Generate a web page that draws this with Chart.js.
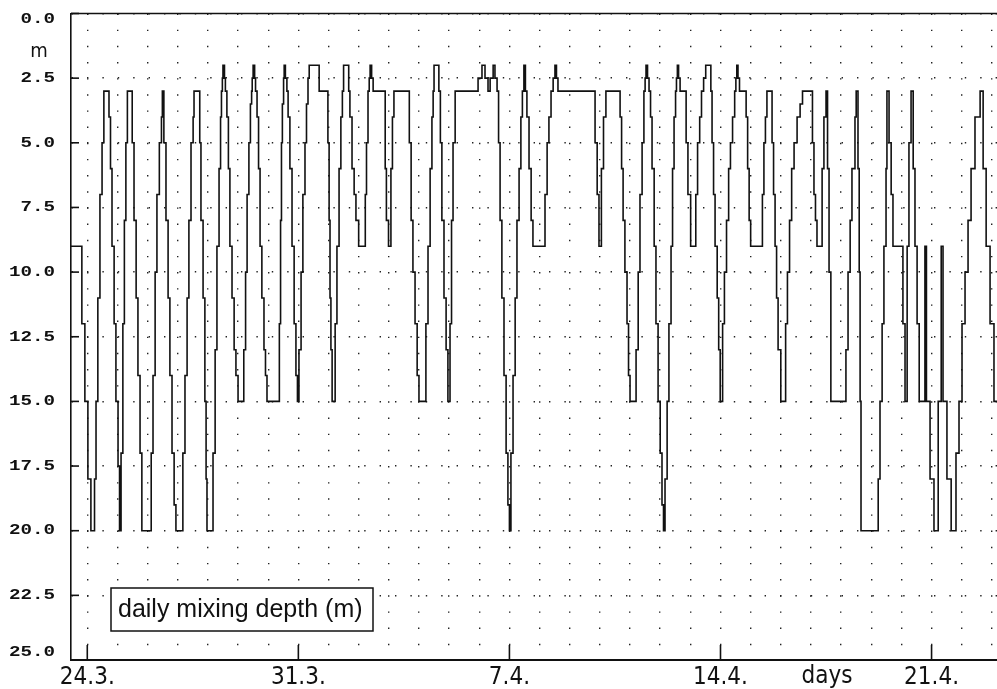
<!DOCTYPE html>
<html>
<head>
<meta charset="utf-8">
<script src="https://cdn.jsdelivr.net/npm/chart.js"></script>
<style>
  html, body { margin: 0; padding: 0; background: #fff; overflow: hidden; }
  #wrap { width: 997px; height: 689px; }
</style>
</head>
<body>
<div id="wrap"><canvas id="chart" width="997" height="689"></canvas></div>
<script>
// days after 24.3. (change points of the stepped mixing depth series)
const dayTimes = [
  -0.55,-0.18,-0.08,0.02,0.12,0.24,0.29,0.35,0.42,0.49,0.55,
  0.72,0.77,0.82,0.89,0.95,1.02,1.07,1.12,1.18,1.23,1.28,1.33,
  1.49,1.55,1.62,1.68,1.75,1.81,
  2.12,2.18,2.25,2.31,2.39,2.46,2.49,
  2.54,2.61,2.68,2.74,2.81,2.88,2.94,
  3.17,3.24,3.31,3.37,3.44,3.51,3.54,
  3.73,3.77,3.84,3.90,3.94,3.97,
  4.17,4.24,4.30,4.37,4.42,4.45,4.48,4.50,
  4.55,4.58,4.63,4.68,4.73,4.80,4.87,4.93,5.00,
  5.19,5.25,5.30,5.36,5.41,5.45,5.47,5.50,
  5.55,5.58,5.63,5.68,5.73,5.79,5.86,5.91,5.96,
  6.37,6.41,6.44,6.47,6.51,6.53,
  6.57,6.62,6.66,6.72,6.79,6.86,6.92,6.97,
  7.02,7.09,7.15,7.22,7.27,7.32,7.36,
  7.69,7.98,8.02,8.05,8.08,8.12,
  8.22,8.28,8.35,8.41,8.46,8.50,
  8.67,8.71,8.78,8.85,8.91,9.00,
  9.22,9.26,9.31,9.35,9.38,9.43,9.48,
  9.88,9.92,9.99,10.07,10.12,10.17,
  10.68,10.74,10.80,10.87,10.94,11.00,
  11.23,11.30,11.37,11.43,11.47,11.50,
  11.66,11.71,11.76,11.83,11.90,11.96,
  12.03,12.08,12.13,12.20,
  12.96,13.09,13.19,13.29,13.36,13.46,13.52,13.59,
  13.64,13.69,13.75,13.82,13.89,13.95,14.00,
  14.05,14.12,14.19,14.25,14.32,14.38,14.43,14.48,
  14.53,14.58,14.65,14.72,14.78,
  15.18,15.25,15.31,15.38,15.45,15.51,15.56,15.61,
  16.84,16.91,16.97,17.05,17.12,17.20,
  17.67,17.72,17.77,17.83,17.90,17.95,18.00,
  18.20,18.27,18.33,18.40,18.46,18.50,18.53,
  18.58,18.63,18.68,18.73,18.80,18.86,18.93,19.00,19.06,19.11,
  19.16,19.23,19.29,19.36,19.41,19.46,19.51,19.54,19.57,
  19.61,19.66,19.86,19.92,20.01,
  20.18,20.24,20.31,20.37,20.44,20.51,
  20.68,20.72,20.77,20.82,20.89,20.94,20.99,
  21.07,21.13,21.20,21.27,21.33,21.40,21.47,21.51,21.54,
  21.58,21.63,21.85,21.90,21.95,22.00,
  22.39,22.44,22.49,22.54,
  22.71,22.76,22.81,22.86,22.91,23.00,
  23.16,23.22,23.29,23.36,23.44,23.54,23.64,23.72,
  24.05,24.10,24.15,24.20,
  24.37,24.43,24.50,
  24.55,24.60,24.66,
  25.16,25.23,25.30,25.36,25.46,25.50,
  25.56,25.60,25.63,25.66,
  26.23,26.29,26.36,26.42,26.49,26.52,
  26.59,26.66,26.72,
  27.05,27.12,27.19,27.25,27.32,
  27.39,27.45,27.52,27.59,
  27.78,27.83,27.95,28.08,28.22,
  28.32,28.38,28.51,28.65,
  28.81,28.91,29.01,29.11,29.21,29.31,29.44,29.61,
  29.71,29.81,29.94,30.07,30.2
];

// daily mixing depth (m)
const mixDepth = [
  9,12,15,18,20,18,15,11,7,5,3,
  4,6,9,12,15,17.5,20,17,12,8,5,3,
  5,8,11,14,17,20,
  17,14,10,7,5,4,3,
  5,8,11,14,17,19,20,
  17,14,11,8,5,4,3,
  5,8,11,15,18,20,
  17,13,9,6,4,3,2.5,2,
  2.5,3,4,6,9,11,13,14,15,
  13,10,7,5,3.5,3,2.5,2,
  2.5,3,4,6,9,11,13,14,15,
  12,8,5,3.5,2.5,2,
  2.5,3,4,6,9,12,14,15,
  13,10,7,5,3.5,2.5,2,
  3,5,8,11,13,15,
  12,9,6,4,3,2,
  3,4,6,7,8,9,
  7,5,3,2.5,2,2.5,3,
  6,8,9,6,4,3,
  5,8,10,12,14,15,
  12,9,6,4,3,2,
  3,5,8,11,13,15,
  12,8,5,3,
  2.5,2,2.5,3,2.5,2,2.5,3,
  5,8,11,14,17,19,20,
  17,14,11,8,6,4,3,2,
  3,4,6,8,9,
  7,5,4,3,2.5,2,2.5,3,
  5,7,9,6,4,3,
  4,6,8,10,12,14,15,
  13,10,7,5,3,2.5,2,
  2.5,3,4,6,9,12,15,17,19,20,
  18,15,12,9,6,4,3,2.5,2,
  2.5,3,5,7,9,
  7,5,4,3,2.5,2,
  3,5,7,9,11,13,15,
  12,10,8,6,5,4,3,2.5,2,
  2.5,3,4,6,8,9,
  7,5,4,3,
  5,7,9,11,13,15,
  12,10,8,6,5,4,3.5,3,
  5,7,8,9,
  6,4,3,
  6,10,15,
  13,10,8,6,4,3,
  6,10,15,20,
  18,15,12,9,6,3,
  5,7,9,
  12,15,9,5,3,
  6,9,12,15,
  9,15,18,20,15,
  9,15,18,20,
  17,15,12,10,8,6,4,3,
  6,9,12,15,15
];

const xTickDays = [0, 7, 14, 21, 28];
const xTickLabels = ['24.3.', '31.3.', '7.4.', '14.4.', '21.4.'];
const xAxisTitle = 'days';
const yAxisTitle = 'm';
const seriesName = 'daily mixing depth (m)';

const points = dayTimes.map((d, i) => ({ x: d, y: mixDepth[i] }));

const narrowFont = "'Liberation Sans Narrow', 'DejaVu Sans Condensed', 'Arial Narrow', sans-serif";
const ink = '#111';

const decorPlugin = {
  id: 'decor',
  afterDraw(chart) {
    const ctx = chart.ctx;
    const area = chart.chartArea;
    const xs = chart.scales.x;
    const ys = chart.scales.y;
    ctx.save();
    ctx.strokeStyle = ink;
    ctx.lineWidth = 1.6;
    // top frame line
    ctx.beginPath();
    ctx.moveTo(area.left, area.top);
    ctx.lineTo(area.right, area.top);
    ctx.stroke();
    // inward tick marks
    ys.ticks.forEach(t => {
      const y = ys.getPixelForValue(t.value);
      ctx.beginPath();
      ctx.moveTo(area.left, y);
      ctx.lineTo(area.left + 8, y);
      ctx.stroke();
    });
    xTickDays.forEach(d => {
      const x = xs.getPixelForValue(d);
      ctx.beginPath();
      ctx.moveTo(x, area.bottom);
      ctx.lineTo(x, area.bottom - 15);
      ctx.stroke();
    });
    // y tick labels: wide bold mono, end labels kept inside the frame
    ctx.fillStyle = ink;
    ctx.textBaseline = 'middle';
    ctx.textAlign = 'right';
    ctx.font = "bold 15px 'Liberation Mono', 'DejaVu Sans Mono', monospace";
    ys.ticks.forEach(t => {
      let y = ys.getPixelForValue(t.value);
      if (t.value === ys.min) y += 6;
      if (t.value === ys.max) y -= 8;
      ctx.save();
      ctx.translate(55, y);
      ctx.scale(1.28, 1);
      ctx.fillText(t.value.toFixed(1), 0, 0);
      ctx.restore();
    });
    // axis titles
    ctx.font = '20px ' + narrowFont;
    ctx.textAlign = 'center';
    ctx.textBaseline = 'alphabetic';
    ctx.fillText(yAxisTitle, 39, 57);
    ctx.font = '24px ' + narrowFont;
    ctx.fillText(xAxisTitle, xs.getPixelForValue(24.53), 683);
    // legend box
    ctx.fillStyle = '#fff';
    ctx.fillRect(111, 588, 262, 43);
    ctx.lineWidth = 1.5;
    ctx.strokeRect(111, 588, 262, 43);
    ctx.fillStyle = ink;
    ctx.textAlign = 'left';
    ctx.font = "25px 'Liberation Sans', Arial, sans-serif";
    ctx.fillText(seriesName, 118, 617);
    ctx.restore();
  }
};

new Chart(document.getElementById('chart'), {
  type: 'line',
  data: {
    datasets: [{
      label: seriesName,
      data: points,
      stepped: 'before',
      borderColor: ink,
      borderWidth: 1.6,
      pointRadius: 0,
      fill: false
    }]
  },
  options: {
    responsive: false,
    animation: false,
    layout: { padding: { top: 13.5, right: 0, left: 0, bottom: 0 } },
    plugins: { legend: { display: false }, tooltip: { enabled: false } },
    scales: {
      x: {
        type: 'linear',
        min: -0.54,
        max: 30.17,
        afterFit(s) { s.height = 29; },
        ticks: {
          stepSize: 1,
          includeBounds: false,
          autoSkip: false,
          maxRotation: 0,
          padding: 3,
          color: ink,
          font: { family: narrowFont, size: 24 },
          callback(v) {
            const i = xTickDays.indexOf(v);
            return i >= 0 ? xTickLabels[i] : '';
          }
        },
        grid: { color: '#222', lineWidth: 1.4, drawTicks: false },
        border: { display: true, color: ink, width: 2, dash: [1.4, 14.76] }
      },
      y: {
        reverse: true,
        min: 0,
        max: 25,
        afterFit(s) { s.width = 71; },
        ticks: { stepSize: 2.5, display: false },
        grid: { color: '#222', lineWidth: 1.4, drawTicks: false },
        border: { display: true, color: ink, width: 1.6, dash: [1.4, 14] }
      }
    }
  },
  plugins: [decorPlugin]
});
</script>
</body>
</html>
